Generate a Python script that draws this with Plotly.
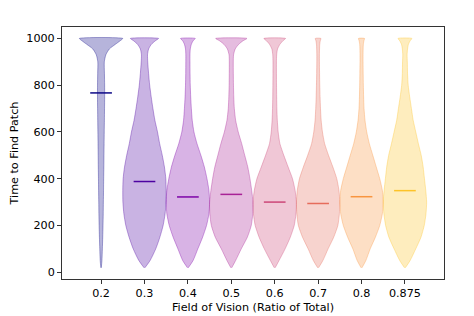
import plotly.graph_objects as go

# Categories (field of vision) and their plotted positions
categories = ["0.2", "0.3", "0.4", "0.5", "0.6", "0.7", "0.8", "0.875"]
positions = [1, 2, 3, 4, 5, 6, 7, 8]

# Mean time to find patch for each category (horizontal marker lines)
means = [767, 388, 322, 333, 300, 294, 323, 349]

# Colours (plasma colormap samples)
line_colors = ["#0d0887", "#4c02a1", "#7e03a8", "#a82296",
               "#cc4778", "#e66c5c", "#f89540", "#fdc328"]

# Density profile: time levels and violin half-widths (fraction of slot)
levels = [19, 50, 100, 150, 200, 250, 300, 350, 400, 450, 500, 550, 600,
          650, 700, 750, 800, 850, 900, 930, 955, 975, 990, 1000]

hw_02 = [0.005, 0.02, 0.03, 0.038, 0.045, 0.05, 0.053, 0.057, 0.06, 0.064, 0.067, 0.07,
         0.073, 0.077, 0.08, 0.083, 0.082, 0.078, 0.075, 0.11, 0.19, 0.33, 0.44, 0.5]
hw_03 = [0.01, 0.13, 0.26, 0.355, 0.43, 0.475, 0.497, 0.5, 0.492, 0.46, 0.41, 0.35,
         0.3, 0.24, 0.195, 0.155, 0.12, 0.095, 0.075, 0.07, 0.095, 0.16, 0.25, 0.325]
hw_04 = [0.01, 0.12, 0.23, 0.34, 0.43, 0.485, 0.5, 0.485, 0.44, 0.38, 0.3, 0.21,
         0.14, 0.1, 0.08, 0.065, 0.055, 0.05, 0.048, 0.048, 0.055, 0.08, 0.12, 0.17]
hw_05 = [0.01, 0.1, 0.23, 0.37, 0.46, 0.495, 0.5, 0.47, 0.43, 0.38, 0.31, 0.24,
         0.16, 0.1, 0.07, 0.057, 0.05, 0.047, 0.046, 0.052, 0.09, 0.17, 0.27, 0.36]
hw_06 = [0.01, 0.1, 0.24, 0.36, 0.45, 0.49, 0.5, 0.47, 0.41, 0.31, 0.21, 0.12,
         0.08, 0.06, 0.05, 0.045, 0.042, 0.04, 0.04, 0.045, 0.065, 0.12, 0.19, 0.25]
hw_07 = [0.01, 0.11, 0.23, 0.36, 0.455, 0.49, 0.5, 0.48, 0.43, 0.34, 0.24, 0.15,
         0.1, 0.07, 0.055, 0.045, 0.038, 0.033, 0.03, 0.03, 0.033, 0.038, 0.05, 0.065]
hw_08 = [0.01, 0.1, 0.2, 0.32, 0.42, 0.48, 0.5, 0.48, 0.42, 0.34, 0.26, 0.18,
         0.12, 0.08, 0.058, 0.048, 0.042, 0.038, 0.035, 0.035, 0.037, 0.042, 0.055, 0.07]
hw_0875 = [0.01, 0.12, 0.25, 0.37, 0.445, 0.485, 0.5, 0.48, 0.45, 0.42, 0.375, 0.31,
           0.25, 0.19, 0.15, 0.11, 0.075, 0.06, 0.055, 0.05, 0.06, 0.08, 0.12, 0.16]

half_widths = [hw_02, hw_03, hw_04, hw_05, hw_06, hw_07, hw_08, hw_0875]

y_ticks = [0, 200, 400, 600, 800, 1000]


def rgba(hex_color, a):
    h = hex_color.lstrip("#")
    r, g, b = int(h[0:2], 16), int(h[2:4], 16), int(h[4:6], 16)
    return f"rgba({r},{g},{b},{a})"


fig = go.Figure()

for pos, hw, col in zip(positions, half_widths, line_colors):
    xs = [pos + w for w in hw] + [pos - w for w in reversed(hw)]
    ys = list(levels) + list(reversed(levels))
    fig.add_trace(go.Scatter(
        x=xs, y=ys, mode="lines", fill="toself",
        fillcolor=rgba(col, 0.3),
        line=dict(color=rgba(col, 0.35), width=1, shape="spline", smoothing=0.6),
        hoverinfo="skip", showlegend=False,
    ))

for pos, m, col in zip(positions, means, line_colors):
    fig.add_trace(go.Scatter(
        x=[pos - 0.25, pos + 0.25], y=[m, m], mode="lines",
        line=dict(color=col, width=1.5), showlegend=False,
    ))

font = dict(family="DejaVu Sans", size=11.2, color="black")

# The page body adds an 8px offset, so the figure is sized/margined to compensate.
fig.update_layout(
    width=466, height=308,
    margin=dict(l=54, r=30, t=19, b=37),
    paper_bgcolor="white", plot_bgcolor="white",
    font=font,
    showlegend=False,
)
fig.update_xaxes(
    range=[0.1, 8.9], tickmode="array", tickvals=positions, ticktext=categories,
    showgrid=False, zeroline=False, showline=True, mirror=True,
    linecolor="#333333", linewidth=1, automargin=False,
    ticks="outside", ticklen=4, tickcolor="#333333", tickwidth=1,
    title=dict(text="Field of Vision (Ratio of Total)", font=font, standoff=3),
)
fig.update_yaxes(
    range=[-29, 1049], tickmode="array", tickvals=y_ticks,
    showgrid=False, zeroline=False, showline=True, mirror=True,
    linecolor="#333333", linewidth=1, automargin=False,
    ticks="outside", ticklen=4, tickcolor="#333333", tickwidth=1,
    title=dict(text="Time to Find Patch", font=font, standoff=6),
)

fig.write_html("out.html")
